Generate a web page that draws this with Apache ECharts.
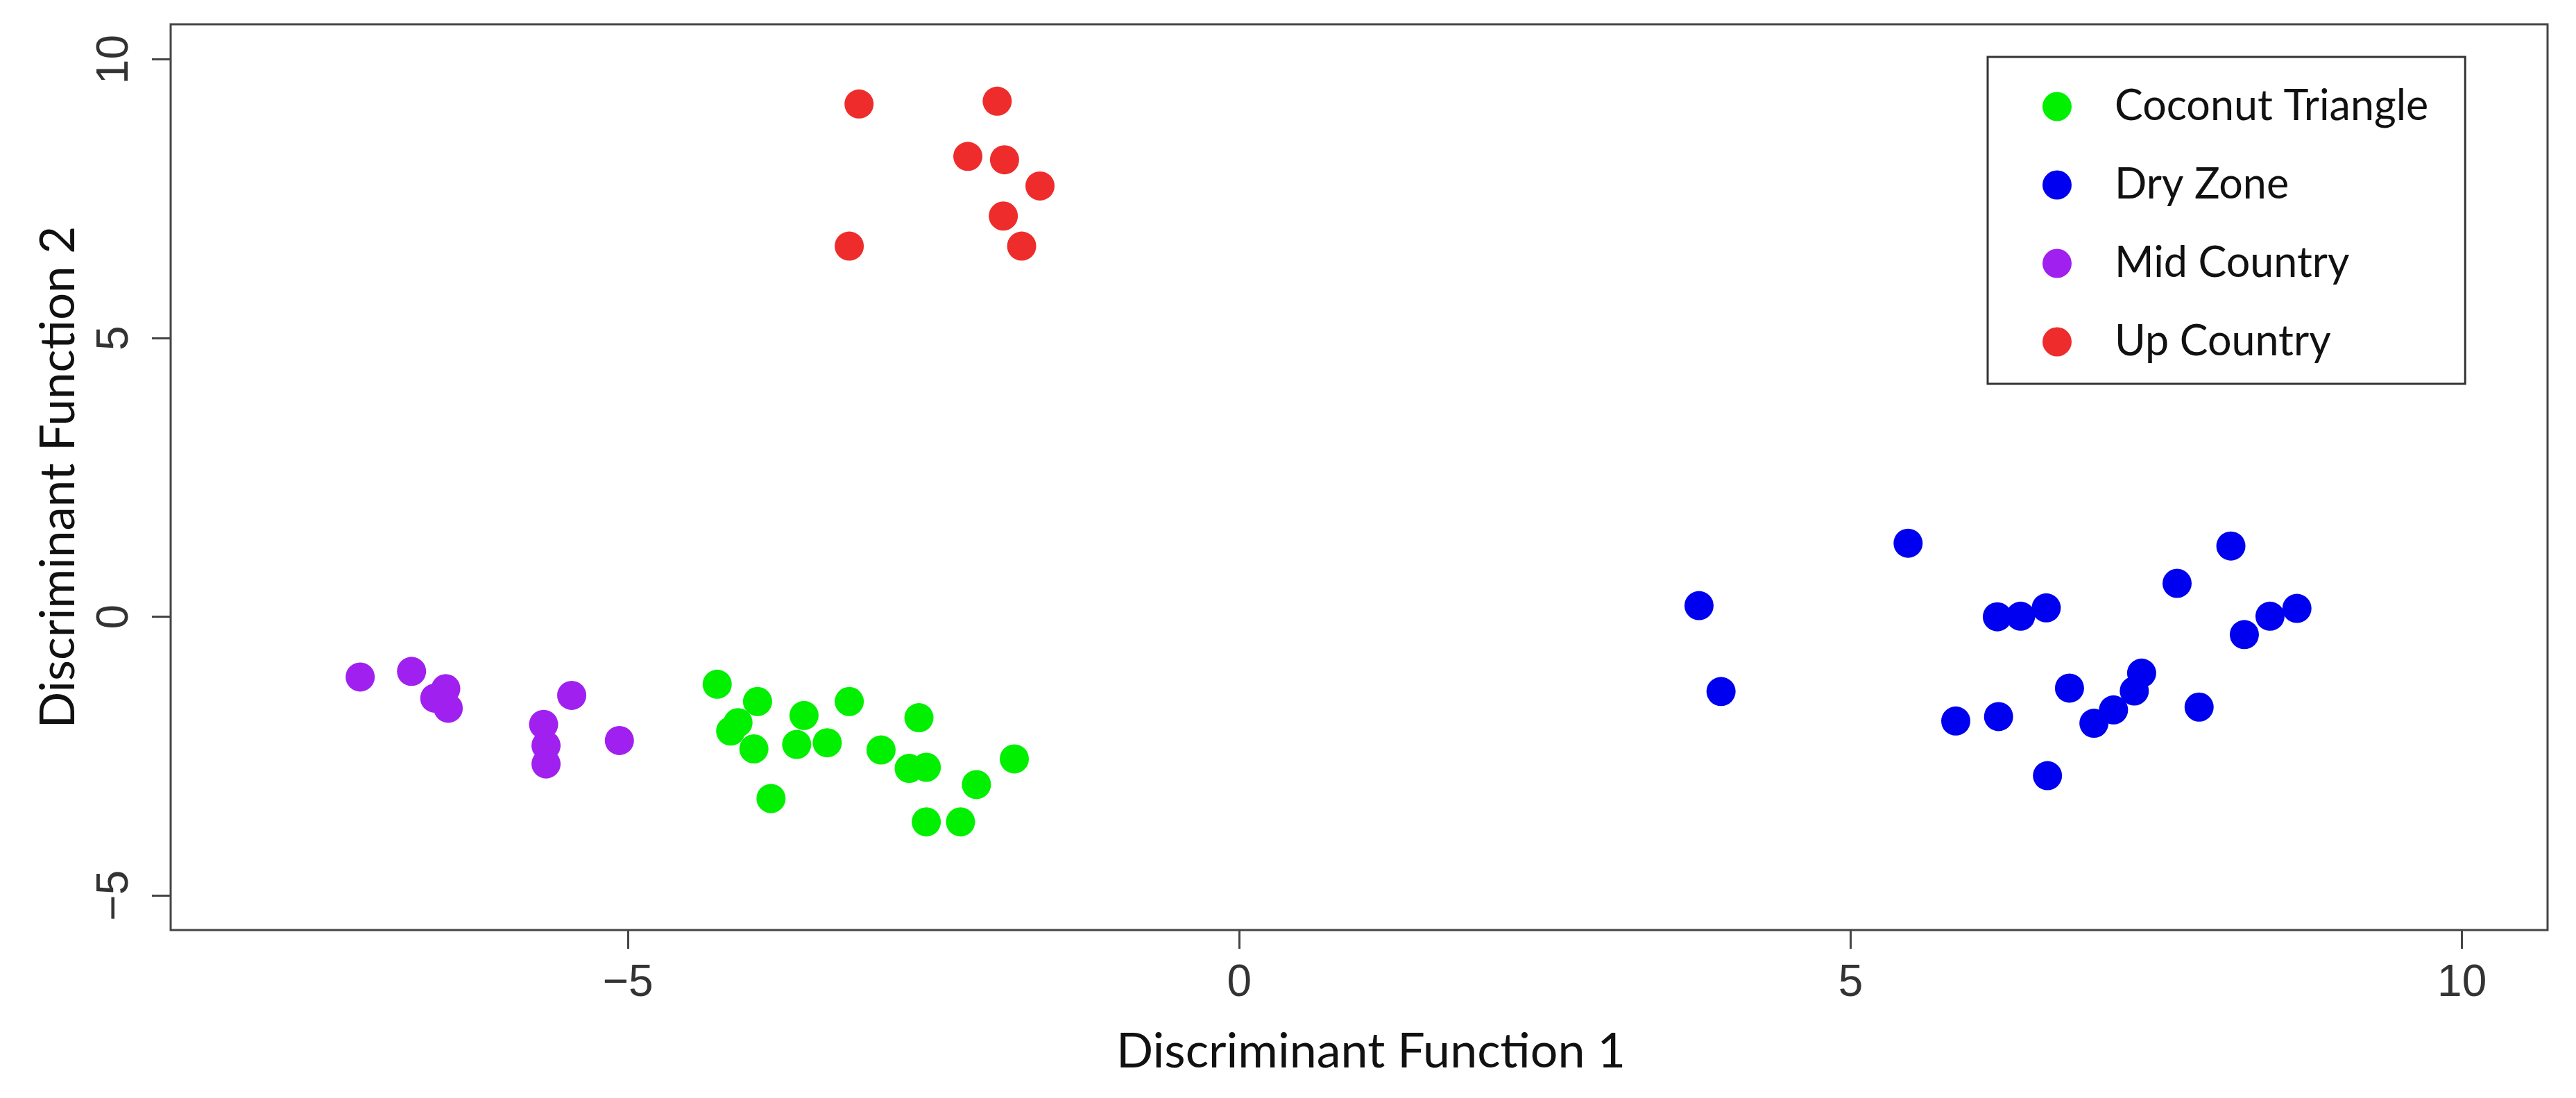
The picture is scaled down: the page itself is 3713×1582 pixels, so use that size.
<!DOCTYPE html>
<html>
<head>
<meta charset="utf-8">
<script src="https://cdn.jsdelivr.net/npm/echarts@6/dist/echarts.min.js"></script>
<style>
html,body{margin:0;padding:0;background:#fff;}
#chart{width:3713px;height:1582px;}
</style>
</head>
<body>
<div id="chart"></div>
<script>
// ---- data (Discriminant Function 1, Discriminant Function 2) ----
const seriesNames = ['Coconut Triangle', 'Dry Zone', 'Mid Country', 'Up Country'];

const coconutTriangle = [
  [-4.27, -1.21], [-3.94, -1.52], [-4.10, -1.90], [-4.16, -2.05], [-3.19, -1.52],
  [-3.56, -1.77], [-3.97, -2.37], [-3.62, -2.29], [-3.37, -2.26], [-2.62, -1.81],
  [-2.93, -2.39], [-2.70, -2.72], [-2.56, -2.70], [-2.15, -3.01], [-1.84, -2.55],
  [-3.83, -3.26], [-2.56, -3.68], [-2.28, -3.68]
];
const dryZone = [
  [3.76, 0.20], [3.94, -1.34], [5.47, 1.32], [6.20, 0.00], [6.39, 0.01],
  [6.60, 0.16], [5.86, -1.87], [6.21, -1.79], [6.79, -1.28], [6.61, -2.85],
  [6.99, -1.91], [7.15, -1.67], [7.32, -1.33], [7.38, -1.01], [7.67, 0.60],
  [7.85, -1.62], [8.11, 1.27], [8.22, -0.32], [8.43, 0.01], [8.65, 0.15]
];
const midCountry = [
  [-7.19, -1.08], [-6.77, -0.98], [-6.58, -1.46], [-6.49, -1.29], [-6.47, -1.64],
  [-5.46, -1.41], [-5.69, -1.93], [-5.67, -2.31], [-5.67, -2.64], [-5.07, -2.22]
];
const upCountry = [
  [-3.11, 9.20], [-1.98, 9.25], [-2.22, 8.26], [-1.92, 8.20], [-1.63, 7.73],
  [-1.93, 7.19], [-3.19, 6.65], [-1.78, 6.65]
];

const xTicks = [-5, 0, 5, 10];
const yTicks = [-5, 0, 5, 10];
const xRange = [-8.74, 10.70];
const yRange = [-5.62, 10.63];

const colors = ['#00F000', '#0000F0', '#A020F0', '#EE2C2C'];
const seriesData = [coconutTriangle, dryZone, midCountry, upCountry];

const fmt = v => String(v).replace('-', '\u2212');

const chart = echarts.init(document.getElementById('chart'), null, {renderer: 'canvas'});
chart.setOption({
  animation: false,
  backgroundColor: '#ffffff',
  grid: {
    left: 246, right: 41, top: 35, bottom: 242,
    show: true, borderColor: '#444', borderWidth: 3, backgroundColor: 'transparent'
  },
  legend: {
    orient: 'vertical',
    left: 2865, top: 82,
    icon: 'circle',
    itemWidth: 42, itemHeight: 42,
    itemGap: 52,
    padding: [41, 53, 30, 79],
    borderColor: '#333', borderWidth: 3,
    backgroundColor: '#fff',
    textStyle: {fontFamily: 'Lato', fontSize: 61, color: '#111', padding: [0, 0, 0, 57]},
    data: seriesNames
  },
  xAxis: {
    type: 'value',
    min: xRange[0], max: xRange[1],
    name: 'Discriminant Function 1',
    nameLocation: 'middle', nameGap: 140,
    nameTextStyle: {fontFamily: 'Lato', fontSize: 70, color: '#111', padding: [0, 0, 0, 34]},
    axisLine: {show: false, onZero: false},
    splitLine: {show: false},
    axisTick: {show: true, customValues: xTicks, length: 27, lineStyle: {color: '#444', width: 3}},
    axisLabel: {customValues: xTicks, formatter: fmt, margin: 45,
      fontFamily: 'Liberation Sans', fontSize: 64, color: '#333'}
  },
  yAxis: {
    type: 'value',
    min: yRange[0], max: yRange[1],
    name: 'Discriminant Function 2',
    nameLocation: 'middle', nameGap: 127,
    nameTextStyle: {fontFamily: 'Lato', fontSize: 69, color: '#111'},
    axisLine: {show: false, onZero: false},
    splitLine: {show: false},
    axisTick: {show: true, customValues: yTicks, length: 27, lineStyle: {color: '#444', width: 3}},
    axisLabel: {customValues: yTicks, formatter: fmt, margin: 48, rotate: 90,
      fontFamily: 'Liberation Sans', fontSize: 64, color: '#333'}
  },
  series: seriesNames.map((n, i) => ({
    name: n,
    type: 'scatter',
    symbol: 'circle',
    symbolSize: 42,
    itemStyle: {color: colors[i], opacity: 1},
    data: seriesData[i]
  }))
});
</script>
</body>
</html>
